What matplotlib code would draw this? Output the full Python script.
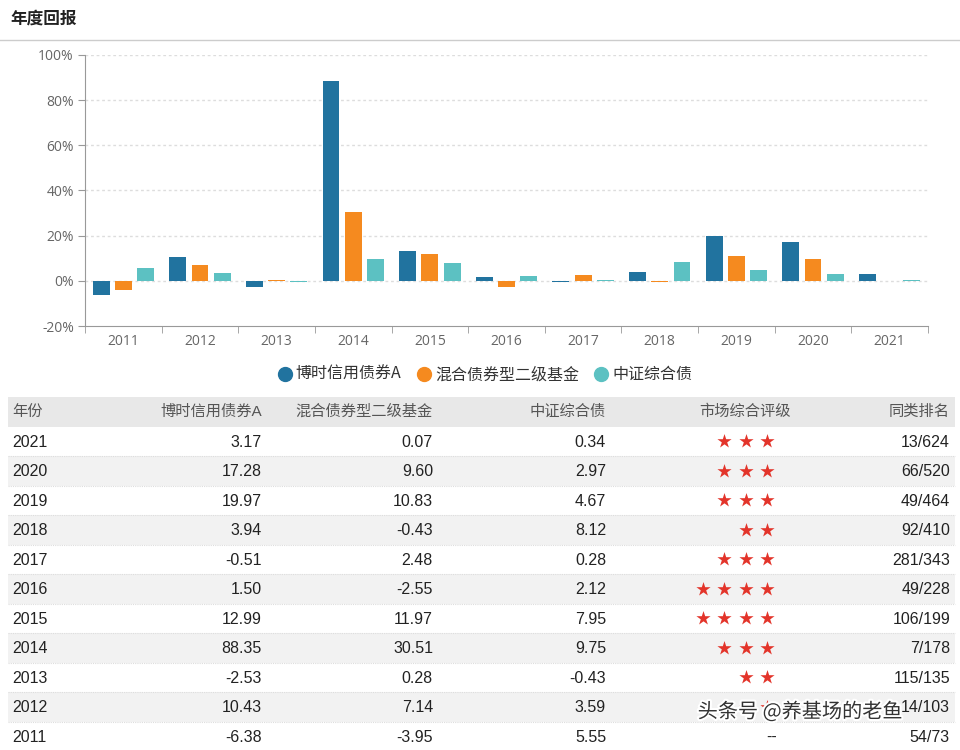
import matplotlib
matplotlib.use("Agg")
import matplotlib.pyplot as plt
from matplotlib.patches import Rectangle
from matplotlib.lines import Line2D
import matplotlib.patheffects as pe
import numpy as np

plt.rcParams['font.family'] = ['Noto Sans CJK SC', 'DejaVu Sans']

years = ['2011', '2012', '2013', '2014', '2015', '2016', '2017', '2018', '2019', '2020', '2021']
fund = [-6.38, 10.43, -2.53, 88.35, 12.99, 1.50, -0.51, 3.94, 19.97, 17.28, 3.17]
peer = [-3.95, 7.14, 0.28, 30.51, 11.97, -2.55, 2.48, -0.43, 10.83, 9.60, 0.07]
index = [5.55, 3.59, -0.43, 9.75, 7.95, 2.12, 0.28, 8.12, 4.67, 2.97, 0.34]
series_names = ['博时信用债券A', '混合债券型二级基金', '中证综合债']
colors = ['#21739f', '#f58a1f', '#5cc1c2']
stars = [0, 2, 2, 3, 4, 4, 3, 2, 3, 3, 3]
ranks = ['54/73', '14/103', '115/135', '7/178', '106/199', '49/228', '281/343',
         '92/410', '49/464', '66/520', '13/624']
headers = ['年份', '博时信用债券A', '混合债券型二级基金', '中证综合债', '市场综合评级', '同类排名']
yticks = [-20, 0, 20, 40, 60, 80, 100]

W, H = 960, 750
fig = plt.figure(figsize=(W / 100, H / 100), dpi=100)

ov = fig.add_axes([0, 0, 1, 1])
ov.set_xlim(0, W)
ov.set_ylim(H, 0)
ov.axis('off')

ov.text(10, 19, '年度回报', fontsize=12, fontweight='bold', color='#222222', va='center', ha='left')
ov.plot([0, W], [40, 40], color='#cccccc', lw=1)

# chart
L, R, T, B = 85, 928, 55, 326
ax = fig.add_axes([L / W, 1 - B / H, (R - L) / W, (B - T) / H])
ax.set_zorder(2)
ax.patch.set_alpha(0)
x = np.arange(len(years))
bw = 0.22
off = 0.29
for i, (vals, c) in enumerate(zip([fund, peer, index], colors)):
    ax.bar(x + (i - 1) * off, vals, width=bw, color=c, zorder=3)
ax.set_xlim(-0.5, len(years) - 0.5)
ax.set_ylim(-20, 100)
ax.set_yticks(yticks)
ax.set_yticklabels([f'{v}%' for v in yticks], fontsize=10, color='#666666',
                   family=['Open Sans', 'DejaVu Sans'])
ax.set_xticks(x)
ax.set_xticklabels(years, fontsize=10, color='#666666', family=['Open Sans', 'DejaVu Sans'])
ax.tick_params(axis='x', length=0, pad=6)
ax.set_xticks(np.arange(-0.5, len(years)), minor=True)
ax.tick_params(axis='x', which='minor', length=5, color='#999999', direction='out')
ax.tick_params(axis='y', length=5, color='#999999', pad=3)
for v in yticks[1:]:
    ax.axhline(v, color='#dddddd', lw=1, ls=(0, (2, 2)), zorder=1)
for s in ['top', 'right']:
    ax.spines[s].set_visible(False)
ax.spines['left'].set_color('#999999')
ax.spines['bottom'].set_color('#999999')

handles = [Line2D([], [], marker='o', ls='', markersize=10, color=c) for c in colors]
ax.legend(handles, series_names, loc='center', bbox_to_anchor=(0.475, -0.18), ncol=3,
          frameon=False, handlelength=0.8, handletextpad=0.3,
          columnspacing=1.0, labelcolor='#333333', prop={'family': ['Noto Sans CJK SC'], 'size': 11.5})

# table
top = 397
rh = 29.5
tx0, tx1 = 8, 955
tfam = ['Liberation Sans', 'Noto Sans CJK SC']
ov.add_patch(Rectangle((tx0, top), tx1 - tx0, rh, color='#e8e8e8', lw=0))
col_x = [12, 262, 433, 606, 745, 950]
col_ha = ['left', 'right', 'right', 'right', 'center', 'right']
for j, h in enumerate(headers):
    ov.text(col_x[j], top + rh / 2, h, fontsize=11, color='#555555', ha=col_ha[j], va='center',
            family=tfam)

ord_idx = list(range(len(years)))[::-1]
for r, k in enumerate(ord_idx):
    y0 = top + rh * (r + 1)
    if r % 2 == 1:
        ov.add_patch(Rectangle((tx0, y0), tx1 - tx0, rh, color='#f2f2f2', lw=0))
    ov.plot([tx0, tx1], [y0 + rh, y0 + rh], color='#dddddd', lw=0.8, ls=(0, (1, 1)))
    yc = y0 + rh / 2 + 1
    kw = dict(fontsize=11.5, color='#222222', va='center', family=tfam)
    ov.text(col_x[0], yc, years[k], ha='left', **kw)
    ov.text(col_x[1], yc, f'{fund[k]:.2f}', ha='right', **kw)
    ov.text(col_x[2], yc, f'{peer[k]:.2f}', ha='right', **kw)
    ov.text(col_x[3], yc, f'{index[k]:.2f}', ha='right', **kw)
    ov.text(col_x[5], yc, ranks[k], ha='right', **kw)
    if stars[k] == 0:
        ov.text(772, yc, '--', ha='center', **kw)
    else:
        sx = [767 - 21.5 * i for i in range(stars[k])]
        ov.scatter(sx, [yc - 1] * len(sx), marker='*', s=115, color='#e3342a', zorder=4, lw=0)

# watermark
ov.text(800, 712, '头条号 @养基场的老鱼', fontsize=14.5, color='#333333', ha='center', va='center',
        path_effects=[pe.withStroke(linewidth=3, foreground='white')], zorder=6)

fig.savefig('out.png', dpi=100)
